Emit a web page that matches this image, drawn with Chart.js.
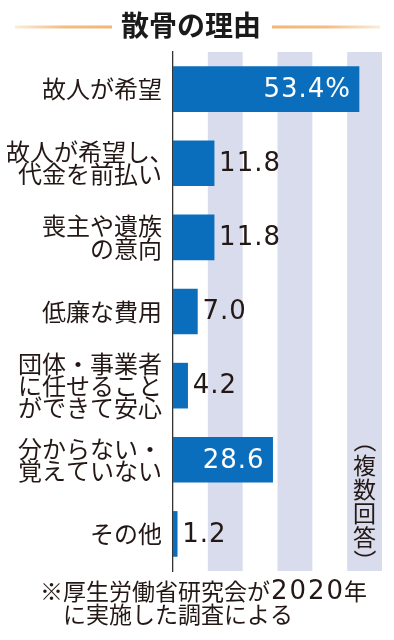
<!DOCTYPE html>
<html>
<head>
<meta charset="utf-8">
<script src="https://cdn.jsdelivr.net/npm/chart.js@4.4.1/dist/chart.umd.min.js"></script>
<style>
html,body{margin:0;padding:0;background:#ffffff;}
#wrap{width:394px;height:640px;}
canvas{display:block;}
</style>
</head>
<body>
<div id="wrap"><canvas id="c" width="394" height="640"></canvas></div>
<script>
// ---- data ----
const titleText = '散骨の理由';
const categories = [
  '故人が希望',
  ['故人が希望し､', '代金を前払い'],
  ['喪主や遺族', 'の意向'],
  '低廉な費用',
  ['団体・事業者', 'に任せること', 'ができて安心'],
  ['分からない・', '覚えていない'],
  'その他'
];
const values = [53.4, 11.8, 11.8, 7.0, 4.2, 28.6, 1.2];
const valueSuffixes = ['%', '', '', '', '', '', ''];
const xTicks = [0, 10, 20, 30, 40, 50, 60];
const noteText = '（複数回答）';
const footnoteLines = ['※厚生労働省研究会が2020年', 'に実施した調査による'];

// ---- styles ----
const CJK = '"Noto Sans CJK JP", "Noto Sans", sans-serif';
const NUM = '"DejaVu Sans", sans-serif';
const INK = '#231815';
const BAR = '#0a6ebd';
const BAND = '#d9dcec';

const bandsPlugin = {
  id: 'bands',
  beforeDatasetsDraw(chart) {
    const {ctx, chartArea, scales: {x}} = chart;
    ctx.save();
    ctx.fillStyle = BAND;
    for (let i = 1; i < xTicks.length; i += 2) {
      const a = x.getPixelForValue(xTicks[i]);
      const b = x.getPixelForValue(xTicks[i + 1]);
      ctx.fillRect(a, chartArea.top, b - a, chartArea.bottom - chartArea.top);
    }
    ctx.restore();
  }
};

const valueLabelPlugin = {
  id: 'valueLabels',
  afterDatasetsDraw(chart) {
    const {ctx} = chart;
    const meta = chart.getDatasetMeta(0);
    ctx.save();
    ctx.font = '26px ' + NUM;
    if ('letterSpacing' in ctx) ctx.letterSpacing = '1px';
    ctx.textBaseline = 'middle';
    meta.data.forEach((bar, i) => {
      const txt = values[i].toFixed(1) + valueSuffixes[i];
      if (values[i] > 20) {
        ctx.fillStyle = '#ffffff';
        ctx.textAlign = 'right';
        ctx.fillText(txt, bar.x - 8, bar.y + 1);
      } else {
        ctx.fillStyle = INK;
        ctx.textAlign = 'left';
        ctx.fillText(txt, bar.x + 5, bar.y + 1);
      }
    });
    ctx.restore();
  }
};

const notePlugin = {
  id: 'verticalNote',
  afterDatasetsDraw(chart) {
    const {ctx, chartArea, scales: {x}} = chart;
    const cx = x.getPixelForValue((xTicks[5] + xTicks[6]) / 2);
    const chars = Array.from(noteText);
    ctx.save();
    ctx.font = '23px ' + CJK;
    ctx.fillStyle = INK;
    ctx.textAlign = 'center';
    ctx.textBaseline = 'middle';
    chars.forEach((ch, i) => {
      const cy = chartArea.bottom - 10 - 24 * (chars.length - 1 - i);
      if (ch === '（' || ch === '）') {
        ctx.save();
        ctx.translate(cx, cy);
        ctx.rotate(Math.PI / 2);
        ctx.fillText(ch, 0, 0);
        ctx.restore();
      } else {
        ctx.fillText(ch, cx, cy);
      }
    });
    ctx.restore();
  }
};

const decoPlugin = {
  id: 'deco',
  afterDraw(chart) {
    const {ctx, chartArea} = chart;
    const W = chart.width;
    // title rules
    const tb = chart.titleBlock;
    const cx = tb ? (tb.left + tb.right) / 2 : W / 2;
    ctx.save();
    ctx.font = 'bold 28px ' + CJK;
    const tw = ctx.measureText(titleText).width;
    const ly = 27;
    const l1 = 15, l2 = cx - tw / 2 - 9, r1 = cx + tw / 2 + 11, r2 = W - 14;
    let g = ctx.createLinearGradient(l1, 0, l2, 0);
    g.addColorStop(0, 'rgba(240,178,110,0.25)');
    g.addColorStop(0.5, 'rgba(240,178,110,0.85)');
    g.addColorStop(1, 'rgba(240,178,110,0.95)');
    ctx.fillStyle = g;
    ctx.fillRect(l1, ly - 1.5, l2 - l1, 3);
    g = ctx.createLinearGradient(r1, 0, r2, 0);
    g.addColorStop(0, 'rgba(240,178,110,0.95)');
    g.addColorStop(0.5, 'rgba(240,178,110,0.85)');
    g.addColorStop(1, 'rgba(240,178,110,0.25)');
    ctx.fillStyle = g;
    ctx.fillRect(r1, ly - 1.5, r2 - r1, 3);

    // footnote
    ctx.fillStyle = INK;
    ctx.textBaseline = 'middle';
    ctx.textAlign = 'left';
    ctx.font = '23px ' + CJK;
    const indent = ctx.measureText('※').width;
    footnoteLines.forEach((line, li) => {
      let x = 40 + (li > 0 ? indent : 0);
      const y = chartArea.bottom + 20 + 23 * li;
      for (const ch of Array.from(line)) {
        if (/[0-9]/.test(ch)) {
          ctx.font = '26px ' + NUM;
          ctx.textAlign = 'center';
          ctx.fillText(ch, x + 9.25, y + 1);
          x += 18.5;
        } else {
          ctx.font = '23px ' + CJK;
          ctx.textAlign = 'left';
          ctx.fillText(ch, x, y);
          x += ctx.measureText(ch).width;
        }
      }
    });
    ctx.restore();
  }
};

new Chart(document.getElementById('c'), {
  type: 'bar',
  data: {
    labels: categories,
    datasets: [{
      data: values,
      backgroundColor: BAR,
      borderWidth: 0,
      barThickness: 45
    }]
  },
  options: {
    indexAxis: 'y',
    responsive: false,
    devicePixelRatio: 1,
    animation: false,
    layout: {padding: {top: 0, right: 12, bottom: 69, left: 0}},
    scales: {
      x: {
        type: 'linear',
        min: xTicks[0],
        max: xTicks[xTicks.length - 1],
        display: false
      },
      y: {
        type: 'category',
        offset: true,
        z: 1,
        grid: {display: false, drawTicks: false},
        border: {display: true, color: '#333333', width: 1.3},
        ticks: {
          color: INK,
          padding: 11,
          font: {family: CJK, size: 24, lineHeight: 0.92}
        },
        afterFit(scale) { scale.width = 173; }
      }
    },
    plugins: {
      legend: {display: false},
      tooltip: {enabled: false},
      title: {
        display: true,
        text: titleText,
        color: '#1a1a1a',
        font: {family: CJK, size: 28, weight: 'bold', lineHeight: 1.2},
        padding: {top: 9, bottom: 9.4}
      }
    }
  },
  plugins: [bandsPlugin, valueLabelPlugin, notePlugin, decoPlugin]
});
</script>
</body>
</html>
